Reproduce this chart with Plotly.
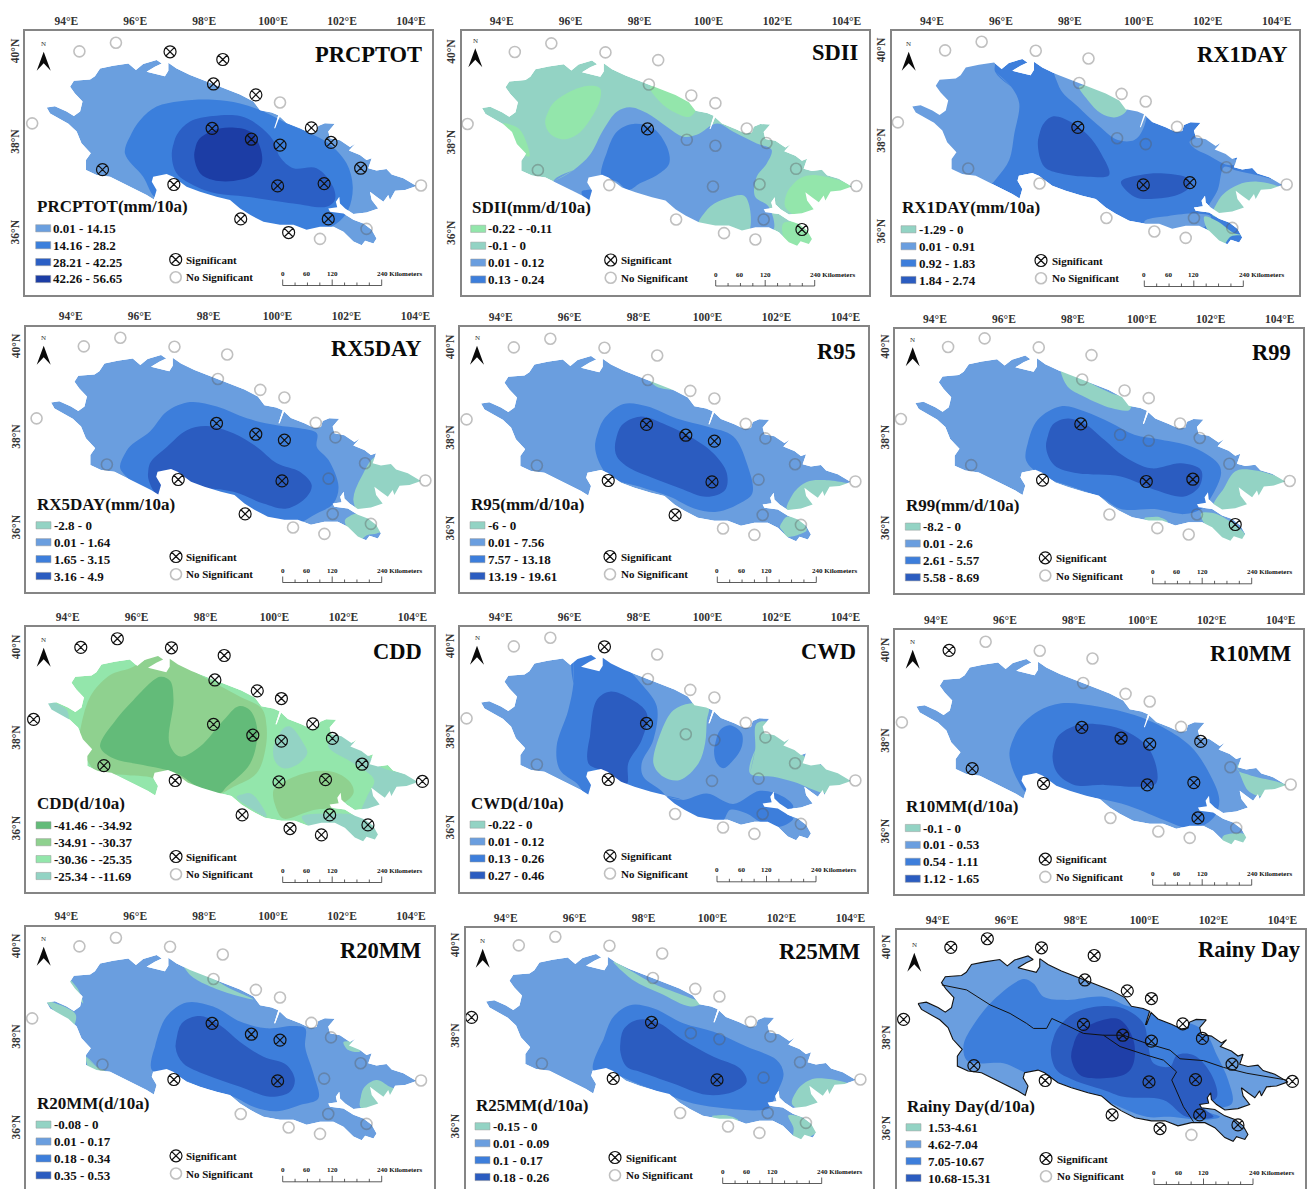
import plotly.graph_objects as go

# ---------- data (longitude, latitude) ----------
OUTLINE = [(93.43,38.79),(93.67,38.82),(94.01,38.70),(94.22,38.60),(94.40,38.70),(94.47,38.92),(94.25,39.10),(94.11,39.25),(94.22,39.38),(94.69,39.41),(94.83,39.48),(94.98,39.65),(95.36,39.71),(95.80,39.76),(96.02,39.62),(96.23,39.75),(96.62,39.84),(96.77,39.76),(96.57,39.69),(96.33,39.58),(96.86,39.48),(96.96,39.60),(96.96,39.78),(97.20,39.65),(97.59,39.51),(97.97,39.40),(98.27,39.32),(98.65,39.21),(99.04,39.08),(99.43,38.92),(99.62,38.73),(99.96,38.68),(100.15,38.62),(100.03,38.33),(100.06,38.33),(100.19,38.59),(100.39,38.45),(100.78,38.33),(101.07,38.23),(101.26,38.25),(101.31,38.38),(101.50,38.44),(101.79,38.43),(101.60,38.26),(101.65,38.11),(101.94,38.07),(102.23,37.92),(102.38,37.99),(102.20,37.84),(102.52,37.74),(102.71,37.63),(102.86,37.67),(102.76,37.45),(103.00,37.40),(103.29,37.43),(103.44,37.31),(103.78,37.23),(104.16,37.06),(103.83,36.97),(103.54,36.95),(103.39,36.75),(103.34,36.86),(103.20,36.71),(103.00,36.82),(102.81,36.93),(102.86,36.75),(103.05,36.56),(102.71,36.47),(102.33,36.44),(102.09,36.56),(101.94,36.67),(101.92,36.82),(101.82,36.71),(101.86,36.59),(101.60,36.56),(101.65,36.49),(102.04,36.45),(102.33,36.31),(102.62,36.23),(102.86,36.09),(103.00,35.90),(102.91,35.79),(102.67,35.85),(102.57,35.75),(102.33,35.83),(102.04,36.05),(101.75,36.16),(101.36,36.16),(100.97,36.09),(100.59,36.20),(100.20,36.20),(99.72,36.27),(99.33,36.42),(99.04,36.56),(98.75,36.75),(98.36,36.82),(97.88,36.93),(97.49,37.04),(97.30,37.15),(97.10,37.26),(96.91,37.32),(96.52,37.26),(96.48,37.15),(96.62,36.97),(96.54,36.76),(96.33,36.86),(96.04,36.97),(95.65,37.12),(95.27,37.26),(94.88,37.30),(94.57,37.41),(94.57,37.63),(94.71,37.78),(94.44,38.00),(94.30,38.26),(94.06,38.43),(93.77,38.55),(93.53,38.66)]

SITE_LON = [93.01,94.38,95.44,97.01,98.54,98.27,99.50,100.20,101.11,101.68,102.54,104.29,98.23,99.37,100.20,95.05,97.12,100.13,101.48,99.06,100.45,101.60,101.36,102.71]
SITE_LAT = [38.44,40.03,40.22,40.02,39.85,39.31,39.07,38.90,38.34,38.02,37.45,37.07,38.33,38.09,37.96,37.42,37.09,37.06,37.11,36.33,36.03,36.33,35.89,36.11]

NAMES = ["PRCPTOT","SDII","RX1DAY","RX5DAY","R95","R99","CDD","CWD","R10MM","R20MM","R25MM","Rainy Day"]
LEGEND_TITLES = ["PRCPTOT(mm/10a)","SDII(mm/d/10a)","RX1DAY(mm/10a)","RX5DAY(mm/10a)","R95(mm/d/10a)","R99(mm/d/10a)","CDD(d/10a)","CWD(d/10a)","R10MM(d/10a)","R20MM(d/10a)","R25MM(d/10a)","Rainy Day(d/10a)"]
CLASS_LABELS = [
    ["0.01 - 14.15","14.16 - 28.2","28.21 - 42.25","42.26 - 56.65"],
    ["-0.22 - -0.11","-0.1 - 0","0.01 - 0.12","0.13 - 0.24"],
    ["-1.29 - 0","0.01 - 0.91","0.92 - 1.83","1.84 - 2.74"],
    ["-2.8 - 0","0.01 - 1.64","1.65 - 3.15","3.16 - 4.9"],
    ["-6 - 0","0.01 - 7.56","7.57 - 13.18","13.19 - 19.61"],
    ["-8.2 - 0","0.01 - 2.6","2.61 - 5.57","5.58 - 8.69"],
    ["-41.46 - -34.92","-34.91 - -30.37","-30.36 - -25.35","-25.34 - -11.69"],
    ["-0.22 - 0","0.01 - 0.12","0.13 - 0.26","0.27 - 0.46"],
    ["-0.1 - 0","0.01 - 0.53","0.54 - 1.11","1.12 - 1.65"],
    ["-0.08 - 0","0.01 - 0.17","0.18 - 0.34","0.35 - 0.53"],
    ["-0.15 - 0","0.01 - 0.09","0.1 - 0.17","0.18 - 0.26"],
    ["1.53-4.61","4.62-7.04","7.05-10.67","10.68-15.31"],
]
SIGNIFICANT = [
    [3,4,5,6,8,9,10,12,13,14,15,16,17,18,19,20,21],
    [12,23],
    [12,17,18],
    [12,13,14,17,16,19],
    [12,13,14,17,16,19],
    [12,17,18,16,23],
    list(range(24)),
    [3,12,16],
    [1,12,13,14,9,15,16,17,18,21],
    [12,13,14,17,16],
    [0,12,17,16],
    [i for i in range(24) if i != 22],
]
BASE_CLASS = [0,1,2,1,1,1,2,1,1,1,1,1]

# each area: (class index, boundary points)
AREAS_PRCPTOT = [
 (1,[(95.70,37.78),(95.85,38.15),(96.14,38.51),(96.62,38.81),(97.30,38.93),(98.26,38.96),(99.04,38.88),(99.72,38.70),(100.39,38.44),(101.07,38.22),(101.60,38.00),(102.13,37.56),(102.31,37.04),(102.18,36.53),(101.84,36.23),(101.26,36.01),(100.30,36.01),(98.85,36.45),(97.49,36.82),(96.62,36.78),(96.23,37.26)]),
 (2,[(97.06,37.78),(97.20,38.18),(97.59,38.48),(98.26,38.60),(99.04,38.60),(99.57,38.40),(100.00,38.07),(100.20,37.70),(100.59,37.45),(101.26,37.45),(101.74,37.04),(101.79,36.75),(101.55,36.60),(100.59,36.67),(99.23,36.82),(98.36,36.89),(97.78,37.04),(97.20,37.34)]),
 (3,[(97.71,37.74),(97.83,38.07),(98.27,38.29),(98.75,38.35),(99.33,38.26),(99.62,37.92),(99.67,37.56),(99.43,37.30),(98.85,37.17),(98.26,37.19),(97.88,37.34)]),
]
AREAS_SDII = [
 (0,[(95.26,38.49),(95.45,38.86),(95.89,39.12),(96.47,39.28),(96.85,39.23),(96.85,38.97),(96.56,38.53),(96.18,38.20),(95.78,38.10),(95.40,38.23)]),
 (0,[(98.30,39.25),(98.78,39.25),(99.37,38.97),(99.66,38.82),(99.46,38.60),(98.98,38.71),(98.59,38.93)]),
 (0,[(94.05,38.45),(94.49,38.34),(94.73,38.01),(94.80,37.72),(94.40,37.90),(94.00,38.20)]),
 (0,[(102.22,36.62),(102.27,36.91),(102.66,37.24),(103.14,37.31),(104.11,37.06),(103.72,36.84),(103.33,36.62),(102.66,36.39)]),
 (0,[(102.17,36.25),(102.56,36.28),(102.95,36.10),(103.04,35.73),(102.37,35.70),(102.17,35.95)]),
 (2,[(95.50,37.17),(96.08,37.42),(96.56,37.76),(96.95,38.31),(97.34,38.71),(97.72,38.81),(98.21,38.68),(98.79,38.38),(99.27,38.16),(99.66,38.20),(100.24,38.45),(100.72,38.27),(101.40,38.01),(101.83,37.87),(101.69,37.57),(101.40,37.28),(101.35,36.84),(101.74,36.62),(101.88,36.10),(101.16,35.95),(99.56,36.17),(98.01,36.62),(96.37,36.69)]),
 (1,[(99.71,36.28),(100.05,36.62),(100.53,36.80),(101.06,36.84),(101.16,36.03),(100.43,35.88),(99.71,36.10)]),
 (3,[(96.90,37.28),(97.04,37.79),(97.34,38.27),(97.82,38.44),(98.40,38.34),(98.79,37.94),(98.86,37.57),(98.50,37.31),(98.01,37.13),(97.67,36.98),(97.34,37.17)]),
 (3,[(96.32,36.95),(96.61,36.98),(96.56,36.76),(96.37,36.83)]),
]
AREAS_RX1DAY = [
 (1,[(95.83,39.56),(96.29,39.23),(96.53,38.86),(96.39,38.20),(96.24,37.61),(95.91,37.24),(95.62,37.02),(94.16,36.73),(93.10,38.20),(93.68,39.67),(95.13,40.18),(95.81,39.82)]),
 (1,[(97.53,39.60),(97.74,39.15),(98.23,38.79),(98.81,38.38),(99.39,38.05),(99.87,38.05),(100.11,38.27),(100.21,38.71),(99.77,38.79),(99.00,39.15),(98.23,39.45),(97.65,39.74)]),
 (0,[(98.27,39.23),(98.61,39.26),(99.19,39.04),(99.68,38.82),(99.58,38.64),(99.29,38.55),(98.90,38.64),(98.52,38.93)]),
 (3,[(97.07,37.98),(97.21,38.38),(97.50,38.57),(98.03,38.45),(98.52,38.16),(98.90,37.76),(99.14,37.28),(98.52,37.24),(97.74,37.31),(97.26,37.46)]),
 (3,[(99.48,37.13),(100.05,37.28),(100.74,37.31),(101.42,37.20),(101.47,37.02),(101.13,36.84),(100.35,36.75),(99.87,36.80)]),
 (1,[(102.48,37.46),(102.77,37.39),(104.22,37.02),(103.64,36.43),(102.19,36.43),(102.00,36.50),(102.29,36.95)]),
 (0,[(102.14,36.39),(102.38,36.80),(102.87,37.06),(103.45,37.13),(104.12,36.98),(103.74,36.80),(103.25,36.58),(102.67,36.39)]),
 (1,[(101.47,38.01),(101.76,38.12),(102.09,38.05),(102.87,37.53),(102.58,37.50),(102.00,37.72),(101.61,37.87)]),
 (1,[(100.16,36.25),(100.74,36.36),(101.61,36.43),(102.09,36.36),(101.80,36.06),(101.22,35.92),(100.45,35.99)]),
 (0,[(101.90,36.36),(102.29,36.25),(102.77,35.99),(103.01,35.95),(102.67,35.92),(102.38,35.66),(102.19,35.84),(101.95,36.13)]),
]
AREAS_RX5DAY = [
 (2,[(95.43,37.37),(95.67,37.78),(96.30,38.15),(96.79,38.59),(97.46,38.80),(98.24,38.70),(99.11,38.44),(99.98,38.29),(100.65,38.22),(101.14,38.11),(101.14,37.81),(101.48,37.52),(101.77,36.93),(101.62,36.56),(101.14,36.34),(100.27,36.05),(98.72,36.49),(97.75,36.71),(96.50,36.64),(95.62,37.15)]),
 (3,[(96.25,37.12),(96.30,37.45),(96.79,37.81),(97.37,38.18),(97.95,38.27),(98.72,38.11),(99.40,37.81),(99.98,37.45),(100.65,37.26),(100.99,36.97),(100.85,36.71),(100.27,36.45),(99.59,36.56),(98.72,36.82),(97.75,36.89),(96.59,36.71)]),
 (0,[(102.20,36.64),(102.49,37.23),(102.88,37.59),(104.43,36.93),(103.55,36.34),(102.49,36.27)]),
 (0,[(101.96,36.20),(102.30,36.34),(103.07,35.97),(102.88,35.90),(102.59,35.86),(102.35,35.72),(102.06,35.97)]),
]
AREAS_R95 = [
 (2,[(96.74,37.91),(96.98,38.43),(97.56,38.78),(98.24,38.73),(99.11,38.46),(99.98,38.28),(100.75,38.06),(101.14,37.47),(101.30,36.81),(100.94,36.59),(100.27,36.40),(99.59,36.48),(98.91,36.73),(98.04,36.95),(97.17,37.17),(96.83,37.54)]),
 (3,[(97.32,37.91),(97.51,38.31),(98.04,38.50),(98.82,38.31),(99.49,38.06),(100.17,37.69),(100.56,37.25),(100.51,36.88),(99.98,36.73),(99.20,36.92),(98.43,37.14),(97.75,37.36),(97.37,37.62)]),
 (0,[(102.30,36.44),(102.49,36.81),(102.88,37.06),(103.36,37.10),(104.14,36.99),(103.55,36.81),(103.26,36.51),(102.88,36.40)]),
 (0,[(102.10,36.07),(102.30,36.29),(102.68,36.22),(102.88,36.00),(102.73,35.92),(102.30,35.85),(102.20,35.96)]),
 (0,[(98.28,39.35),(98.62,39.27),(99.01,39.10),(98.53,39.16)]),
]
AREAS_R99 = [
 (0,[(97.66,39.52),(97.85,39.48),(98.43,39.26),(99.11,39.01),(99.69,38.86),(99.64,38.64),(99.11,38.68),(98.33,38.93),(97.85,39.15)]),
 (2,[(96.64,37.53),(96.69,37.90),(96.98,38.42),(97.66,38.72),(98.33,38.61),(99.11,38.35),(99.78,38.09),(100.56,37.98),(101.43,37.83),(102.20,37.47),(102.30,37.24),(102.01,36.71),(101.72,36.45),(101.23,36.34),(100.37,36.45),(99.39,36.45),(98.82,36.71),(97.95,36.95),(97.08,37.20)]),
 (3,[(97.22,37.83),(97.41,38.31),(97.85,38.45),(98.33,38.34),(98.91,37.98),(99.49,37.61),(100.27,37.35),(101.14,37.46),(101.72,37.31),(101.67,36.95),(101.23,36.73),(100.37,36.88),(99.39,37.17),(98.14,37.24),(97.46,37.42)]),
 (0,[(102.06,36.47),(102.35,36.87),(102.78,37.31),(104.23,37.02),(103.55,36.65),(102.88,36.39)]),
 (0,[(101.72,36.36),(102.10,36.36),(102.97,35.92),(102.97,35.77),(102.35,35.73),(102.10,35.95),(101.81,36.14)]),
 (0,[(100.07,36.25),(100.46,36.28),(100.75,36.17),(100.36,36.14)]),
]
AREAS_CDD = [
 (3,[(93.39,38.87),(93.97,38.65),(94.00,38.35),(93.50,38.57),(93.20,38.75)]),
 (3,[(101.56,37.84),(101.71,38.13),(102.48,37.84),(103.06,37.40),(104.42,37.06),(103.55,36.51),(102.53,36.36),(102.68,36.73),(102.89,37.10),(102.29,37.47)]),
 (3,[(100.79,36.29),(101.71,36.36),(102.48,36.29),(103.06,35.92),(102.97,35.74),(102.29,35.70),(101.80,36.07),(101.13,36.03)]),
 (3,[(99.97,37.84),(100.26,38.24),(100.45,38.28),(100.84,37.91),(100.95,37.69),(100.64,37.43),(100.26,37.36),(100.02,37.51)]),
 (3,[(98.90,36.73),(99.29,36.81),(99.58,36.59),(99.77,36.29),(99.39,36.44)]),
 (1,[(94.36,38.20),(94.65,38.94),(95.23,39.42),(95.81,39.57),(96.78,39.90),(97.84,39.42),(99.00,38.94),(99.63,38.68),(99.77,38.28),(99.73,37.76),(99.48,37.25),(98.81,36.95),(98.23,36.73),(96.87,36.66),(96.58,37.10),(95.71,37.21),(94.84,37.28),(94.50,37.62),(94.26,37.91)]),
 (0,[(94.94,37.84),(95.32,38.35),(95.91,38.87),(96.68,39.38),(96.97,39.29),(97.07,38.87),(96.95,37.91),(97.26,37.62),(97.84,37.84),(98.52,38.42),(98.96,38.73),(99.29,38.64),(99.50,38.20),(99.29,37.46),(98.61,36.95),(98.42,36.81),(97.84,36.92),(97.16,37.25),(96.19,37.43),(95.32,37.58)]),
 (1,[(99.97,36.88),(100.26,37.06),(101.03,37.28),(101.71,37.28),(102.19,37.06),(102.29,36.81),(101.80,36.51),(101.13,36.44),(100.26,36.25),(100.07,36.44)]),
]
AREAS_CWD = [
 (2,[(96.11,39.80),(96.11,39.21),(95.96,38.62),(95.62,37.81),(95.72,37.30),(96.21,37.00),(96.60,36.64),(97.66,36.64),(98.82,36.57),(98.72,36.79),(98.14,37.15),(98.09,37.45),(98.43,37.97),(98.53,38.70),(98.14,39.15),(97.51,39.63),(96.98,39.82)]),
 (2,[(98.82,36.71),(99.30,36.64),(99.98,36.78),(100.75,36.55),(101.52,36.84),(102.20,36.71),(102.49,36.49),(102.30,36.34),(102.49,36.23),(102.10,36.05),(101.52,36.16),(101.14,36.34),(100.66,36.42),(100.42,36.16),(99.79,36.12),(99.01,36.49)]),
 (3,[(96.54,37.45),(96.59,38.04),(96.79,38.85),(97.17,39.03),(97.75,38.88),(98.24,38.55),(98.09,37.96),(97.70,37.45),(97.66,37.00),(97.27,37.15),(96.88,37.30)]),
 (0,[(98.43,37.45),(98.67,38.18),(99.01,38.62),(99.49,38.77),(100.03,38.71),(99.98,38.40),(99.93,37.89),(99.74,37.45),(99.20,37.08),(98.72,37.15)]),
 (2,[(100.19,37.74),(100.36,38.18),(100.65,38.29),(100.99,38.11),(100.99,37.81),(100.75,37.52),(100.46,37.34),(100.27,37.45)]),
 (0,[(101.23,37.23),(101.38,37.74),(101.43,38.33),(101.91,38.33),(102.68,37.67),(104.14,37.04),(103.55,36.78),(102.49,37.04),(101.91,37.15)]),
]
AREAS_R10MM = [
 (2,[(96.13,37.76),(96.37,38.27),(96.95,38.68),(97.63,38.86),(98.69,38.79),(99.76,38.60),(100.63,38.31),(101.40,37.90),(101.98,37.24),(102.22,36.72),(102.08,36.36),(101.69,36.14),(101.30,36.10),(100.63,36.28),(99.66,36.58),(98.89,36.73),(97.53,36.87),(96.76,36.80),(96.37,37.16)]),
 (3,[(97.38,37.68),(97.53,38.12),(98.11,38.38),(98.88,38.38),(99.56,38.23),(100.14,37.90),(100.41,37.39),(100.38,37.09),(99.95,37.02),(98.88,37.06),(98.01,37.06),(97.53,37.31)]),
 (0,[(102.75,37.50),(102.85,37.53),(102.75,37.39),(103.09,37.28),(104.20,37.02),(103.60,36.80),(103.09,36.91),(102.85,37.24)]),
 (0,[(102.32,35.92),(102.66,35.99),(103.04,35.95),(102.95,35.77),(102.37,35.70)]),
]
AREAS_R20MM = [
 (2,[(96.48,37.30),(96.57,37.81),(96.91,38.48),(97.49,38.79),(98.26,38.70),(99.04,38.37),(99.81,38.22),(100.59,38.27),(100.93,38.22),(100.93,37.81),(101.17,37.22),(101.31,36.67),(100.78,36.53),(100.10,36.39),(99.43,36.49),(98.85,36.71),(97.88,36.93),(97.10,37.19)]),
 (3,[(97.17,37.81),(97.35,38.33),(97.88,38.49),(98.46,38.29),(99.04,37.92),(99.72,37.59),(100.39,37.41),(100.63,37.08),(100.49,36.82),(99.91,36.71),(99.04,36.93),(98.07,37.19),(97.39,37.45)]),
 (0,[(97.38,39.65),(97.78,39.54),(98.65,39.14),(99.43,38.86),(98.85,38.96),(98.07,39.18),(97.59,39.40)]),
 (0,[(93.44,38.81),(93.93,38.70),(94.28,38.51),(94.15,38.22),(93.72,38.55)]),
 (0,[(94.11,39.29),(94.35,39.07),(94.49,38.77),(94.20,39.07)]),
 (0,[(94.57,37.59),(94.88,37.37),(95.17,37.26),(94.69,37.30)]),
 (0,[(102.52,36.49),(102.62,36.89),(103.00,37.08),(103.39,36.93),(103.87,36.78),(103.39,36.71),(103.10,36.45),(102.71,36.42)]),
 (0,[(102.04,37.92),(102.33,37.92),(102.52,37.71),(102.18,37.74)]),
]
AREAS_R25MM = [
 (2,[(96.54,37.28),(96.83,37.94),(97.12,38.45),(97.61,38.71),(98.28,38.64),(99.15,38.31),(100.03,38.12),(101.00,37.79),(101.86,37.50),(102.06,37.20),(101.86,36.76),(101.62,36.43),(101.38,36.39),(100.41,36.43),(99.44,36.54),(98.86,36.69),(97.89,36.95),(97.12,37.20)]),
 (3,[(97.32,37.72),(97.41,38.16),(97.80,38.38),(98.38,38.34),(99.15,37.94),(100.03,37.57),(100.80,37.31),(100.99,37.02),(100.61,36.80),(99.83,36.73),(98.86,36.98),(97.89,37.24),(97.51,37.35)]),
 (0,[(97.12,39.67),(97.32,39.60),(98.28,39.19),(99.25,38.90),(99.69,38.75),(99.35,38.68),(98.48,38.97),(97.70,39.26)]),
 (0,[(102.30,36.54),(102.49,36.87),(102.97,37.09),(103.99,36.95),(103.41,36.76),(103.12,36.47),(102.64,36.39)]),
 (0,[(102.20,36.28),(102.54,36.25),(103.02,35.92),(102.35,35.73),(102.35,36.00)]),
 (0,[(99.98,36.26),(100.41,36.28),(100.75,36.17),(100.32,36.14)]),
]
AREAS_RAINY = [
 (2,[(94.75,37.88),(95.04,38.32),(95.62,38.87),(96.49,39.33),(96.78,39.23),(97.07,38.94),(97.74,38.87),(98.81,38.94),(99.58,38.72),(100.10,38.70),(100.74,38.50),(101.71,38.20),(102.10,37.65),(102.43,37.09),(102.53,36.58),(101.71,36.44),(102.19,36.29),(101.71,36.22),(100.74,36.29),(100.06,36.29),(98.81,36.66),(97.84,36.95),(96.58,37.25),(95.91,37.47),(95.23,37.47),(94.84,37.54)]),
 (3,[(97.28,37.76),(97.45,38.20),(97.94,38.57),(98.72,38.73),(99.39,38.68),(99.97,38.35),(100.11,37.84),(100.26,37.47),(100.74,37.40),(100.94,37.65),(101.43,37.65),(101.92,37.25),(102.10,36.73),(101.71,36.51),(102.00,36.29),(101.22,36.29),(100.55,36.66),(99.39,36.73),(98.81,36.88),(97.94,37.10),(97.45,37.32)]),
 (4,[(97.87,37.62),(98.08,38.13),(98.81,38.43),(99.29,38.43),(99.68,37.98),(99.68,37.47),(99.48,37.25),(98.81,37.14),(98.13,37.21)]),
]
AREAS = [AREAS_PRCPTOT,AREAS_SDII,AREAS_RX1DAY,AREAS_RX5DAY,AREAS_R95,AREAS_R99,AREAS_CDD,AREAS_CWD,AREAS_R10MM,AREAS_R20MM,AREAS_R25MM,AREAS_RAINY]

BASIN_LINE_A = [(94.12,39.20),(94.84,39.09),(95.52,38.76),(96.10,38.57),(96.58,38.35),(96.78,38.24),(97.16,38.24),(97.31,38.46),(97.74,38.31),(98.23,38.13),(98.81,38.09),(99.39,38.09),(100.06,37.91),(100.74,37.76),(101.03,37.57),(101.71,37.53),(102.29,37.38),(102.97,37.25),(104.13,37.10)]
BASIN_LINE_B = [(98.81,38.09),(99.29,37.84),(100.06,37.65),(100.55,37.54),(100.93,37.28),(100.79,37.10),(101.13,36.51),(101.42,36.18)]

LON_TICKS = [94,96,98,100,102,104]
LAT_TICKS = [36,38,40]
SCALE_KM = [0,30,60,90,120,150,180,210,240]
SCALE_LABELS = {0:"0",60:"60",120:"120"}

# ---------- styles ----------
TEAL,LIGHT,MID,DARK = "#93d3c4","#6a9edf","#3d7edb","#2b5cc0"
GREEN,GREEN2,GREEN3 = "#93e6ab","#8fd18f","#63bb79"
PALETTES = [
    ["#6a9fdf","#3b7fdc","#2b5fc5","#1c3da5"],
    [GREEN,TEAL,LIGHT,MID],
    [TEAL,LIGHT,MID,DARK],[TEAL,LIGHT,MID,DARK],[TEAL,LIGHT,MID,DARK],[TEAL,LIGHT,MID,DARK],
    [GREEN3,GREEN2,GREEN,TEAL],
    [TEAL,LIGHT,MID,DARK],[TEAL,LIGHT,MID,DARK],[TEAL,LIGHT,MID,DARK],[TEAL,LIGHT,MID,DARK],
    [TEAL,LIGHT,MID,DARK,"#1f3fa8"],
]
SERIF = "Liberation Serif"

# ---------- layout, in page pixels ----------
W,H = 1311,1189
PX_LON,PX_LAT = 34.47,45.3
FRAME_L = [25,461.7,891.7,26,460,895,26,460,895,26,465.7,896.7]
FRAME_R = [432,869,1299.3,434,867.7,1303.3,434,867.3,1303,434,872.7,1305]
FRAME_T = [31,31,31,326.7,327.3,329,627,627.3,630,926.7,928.3,930]
FRAME_B = [295,295,295,591.7,592.3,593.3,892,892.3,894,1188.5,1188.5,1188.5]
X94 = [66.3,501.7,932,70.7,500.7,935,67.7,500.7,936,66.3,505.7,937.7]
Y40 = [52.7,53.3,51.7,347.7,348.7,348.3,648.7,647.7,651.7,947.7,946.7,948.7]
LEG_X = [35.7,470.7,901,36,470,905.3,36,470,905.3,36,475,906]
LEG_Y = [207,207.5,208,504,504,505.3,804,803.3,806.7,1103.3,1105,1106]
TITLE_R = [422.7,859.3,1287.7,421.7,856.7,1291.7,422.7,856.7,1291.7,422,861,1302.3]
TITLE_Y = [55,52.3,55,348.3,351.7,352.3,651.7,651.7,653.3,950.7,951.7,949]
SCALE_X = [282.7,715.7,1144.3,282.7,717.3,1152.7,282.7,717,1152.7,282.7,722.7,1154]
NORTH_DX = [18.7,13.6,17,17.7,17,17.7,17.7,17,17.7,17.7,17,17.6]
NORTH_DY = [-1,-5,0,-2,-3,-1,-1,-2,-2,-1,2,4]

def fx(p): return p/W
def fy(p): return 1-p/H

def closed(pts):
    # the first two points are repeated so the spline has no corner where it closes
    pts = pts+pts[:2]
    return [p[0] for p in pts],[p[1] for p in pts]

fig = go.Figure()
layout = dict(width=W,height=H,margin=dict(l=0,r=0,t=0,b=0),paper_bgcolor="white",plot_bgcolor="white",showlegend=False,autosize=False)
shapes,annotations = [],[]

def note(x,y,text,size,anchor="left",bold=True,color="#111"):
    annotations.append(dict(x=fx(x),y=fy(y),xref="paper",yref="paper",text=text,showarrow=False,xanchor=anchor,yanchor="middle",
                            borderpad=0,font=dict(family=SERIF,size=size,color=color,weight="bold" if bold else "normal")))

for i,name in enumerate(NAMES):
    L,R,T,B = FRAME_L[i],FRAME_R[i],FRAME_T[i],FRAME_B[i]
    x0,x1 = 94+(L-X94[i])/PX_LON, 94+(R-X94[i])/PX_LON
    y1,y0 = 40+(Y40[i]-T)/PX_LAT, 40-(B-Y40[i])/PX_LAT
    sfx = "" if i==0 else str(i+1)
    xa,ya = "x"+sfx,"y"+sfx
    common = dict(showgrid=False,zeroline=False,showline=True,mirror=True,linecolor="#858585",linewidth=1.5,ticks="",
                  tickfont=dict(family=SERIF,size=11.5,color="#333",weight="bold"))
    layout["xaxis"+sfx] = dict(domain=[fx(L),fx(R)],range=[x0,x1],anchor=ya,side="top",tickmode="array",
                               tickvals=LON_TICKS,ticktext=[f"{v}°E" for v in LON_TICKS],tickangle=0,**common)
    layout["yaxis"+sfx] = dict(domain=[fy(B),fy(T)],range=[y0,y1],anchor=xa,tickmode="array",
                               tickvals=LAT_TICKS,ticktext=[f"{v}°N" for v in LAT_TICKS],tickangle=-90,**common)
    pal = PALETTES[i]
    ax = dict(xaxis=xa,yaxis=ya,showlegend=False,hoverinfo="skip")

    # region filled with its base class
    fig.add_trace(go.Scatter(x=[p[0] for p in OUTLINE],y=[p[1] for p in OUTLINE],mode="lines",fill="toself",
                             fillcolor=pal[BASE_CLASS[i]],line=dict(width=0),**ax))
    # class areas
    for cls,pts in AREAS[i]:
        xs,ys = closed(pts)
        fig.add_trace(go.Scatter(x=xs,y=ys,mode="lines",fill="toself",fillcolor=pal[cls],
                                 line=dict(width=0,shape="spline",smoothing=1),**ax))
    # white mask: panel rectangle (counter-clockwise) with the region as a hole (clockwise)
    mx = [x0,x1,x1,x0,x0,None]+[p[0] for p in OUTLINE]+[OUTLINE[0][0]]
    my = [y0,y0,y1,y1,y0,None]+[p[1] for p in OUTLINE]+[OUTLINE[0][1]]
    fig.add_trace(go.Scatter(x=mx,y=my,mode="lines",fill="toself",fillcolor="white",line=dict(width=0),**ax))

    if i==11:
        fig.add_trace(go.Scatter(x=[p[0] for p in OUTLINE]+[OUTLINE[0][0]],y=[p[1] for p in OUTLINE]+[OUTLINE[0][1]],
                                 mode="lines",line=dict(color="#111",width=1.1),**ax))
        for line in (BASIN_LINE_A,BASIN_LINE_B):
            fig.add_trace(go.Scatter(x=[p[0] for p in line],y=[p[1] for p in line],mode="lines",line=dict(color="#111",width=1),**ax))

    # stations
    sig = set(SIGNIFICANT[i])
    nonsig_lon = [SITE_LON[k] for k in range(24) if k not in sig]
    nonsig_lat = [SITE_LAT[k] for k in range(24) if k not in sig]
    ref_lon = [94+(LEG_X[i]+140-X94[i])/PX_LON]
    def to_lat(p): return 40-(p-Y40[i])/PX_LAT
    grey = dict(symbol="circle-open",size=11,line=dict(color="rgba(90,90,90,0.38)",width=1.6),color="rgba(90,90,90,0.38)")
    black = dict(symbol="circle-x-open",size=12,line=dict(color="#111",width=1.2),color="#111")
    fig.add_trace(go.Scatter(x=nonsig_lon+ref_lon,y=nonsig_lat+[to_lat(LEG_Y[i]+70.2)],mode="markers",marker=grey,**ax))
    fig.add_trace(go.Scatter(x=[SITE_LON[k] for k in sorted(sig)]+ref_lon,y=[SITE_LAT[k] for k in sorted(sig)]+[to_lat(LEG_Y[i]+52.5)],mode="markers",marker=black,**ax))

    # panel title, legend
    note(TITLE_R[i],TITLE_Y[i],name,22.5,"right",color="#0a0a0a")
    note(LEG_X[i],LEG_Y[i],LEGEND_TITLES[i],17)
    for r,lab in enumerate(CLASS_LABELS[i]):
        cy = LEG_Y[i]+21.3+r*16.9
        shapes.append(dict(type="rect",xref="paper",yref="paper",x0=fx(LEG_X[i]),x1=fx(LEG_X[i]+15),y0=fy(cy-3.6),y1=fy(cy+3.6),
                           fillcolor=pal[r],line=dict(width=0.5,color="#9a9a9a")))
        note(LEG_X[i]+(21 if i==11 else 16.6),cy,lab,13)
    note(LEG_X[i]+149.5,LEG_Y[i]+52.5,"Significant",11)
    note(LEG_X[i]+149.5,LEG_Y[i]+70.2,"No Significant",11)

    # scale bar
    sx,sy = SCALE_X[i],LEG_Y[i]+78.5
    d = f"M{fx(sx)},{fy(sy)}L{fx(sx+99)},{fy(sy)}"
    for km in SCALE_KM:
        px = sx+km*99/240
        h = 6 if km in (0,120,240) else 3
        d += f"M{fx(px)},{fy(sy)}L{fx(px)},{fy(sy-h)}"
        if km in SCALE_LABELS:
            note(px,sy-11.5,SCALE_LABELS[km],7,"center")
    note(sx+93.5,sy-11.5,"240 Kilometers",7)
    shapes.append(dict(type="path",xref="paper",yref="paper",path=d,line=dict(color="#333",width=0.8)))

    # north arrow
    nx,ny = L+NORTH_DX[i],Y40[i]+NORTH_DY[i]
    shapes.append(dict(type="path",xref="paper",yref="paper",fillcolor="#0a0a0a",line=dict(width=0),
                       path=f"M{fx(nx)},{fy(ny)}L{fx(nx+7)},{fy(ny+19)}L{fx(nx)},{fy(ny+11.5)}L{fx(nx-7)},{fy(ny+19)}Z"))
    note(nx,ny-7.5,"N",7,"center",bold=False,color="#333")

layout["shapes"] = shapes
layout["annotations"] = annotations
fig.update_layout(**layout)
fig.write_html("out.html",config=dict(displayModeBar=False),
               post_script="document.body.style.margin='0';document.body.style.overflow='hidden';")
